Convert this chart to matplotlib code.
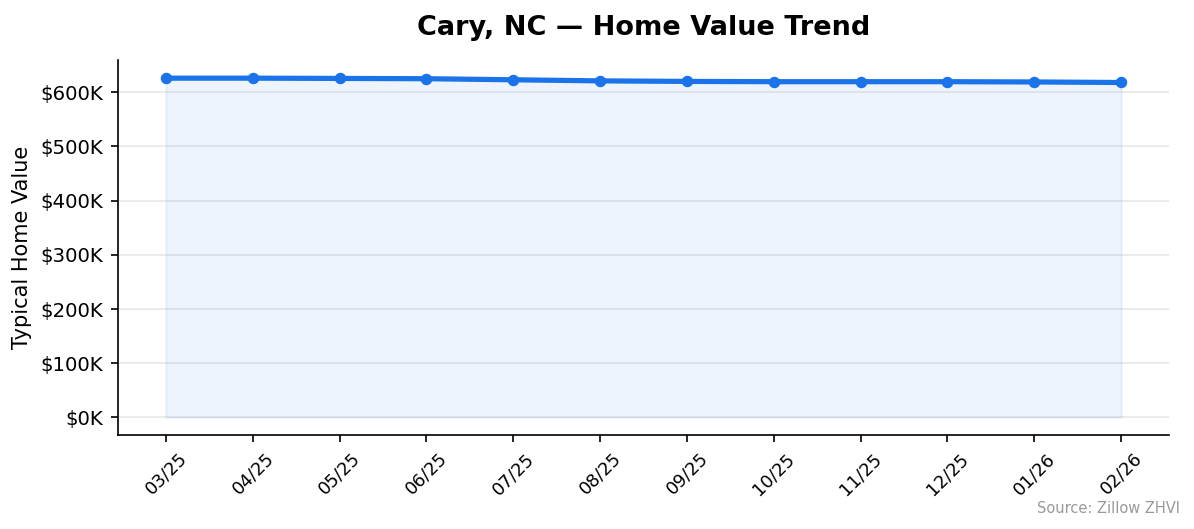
import matplotlib
matplotlib.use("Agg")
import matplotlib.pyplot as plt
from matplotlib.ticker import FuncFormatter

# ── Data ────────────────────────────────────────────
months = ["03/25", "04/25", "05/25", "06/25", "07/25", "08/25",
          "09/25", "10/25", "11/25", "12/25", "01/26", "02/26"]
values = [626000, 626000, 625500, 625000, 623000, 621000,
          620000, 619500, 619500, 619500, 619000, 618000]

COLOR = "#1a73e8"

fig, ax = plt.subplots(figsize=(7.96, 3.527), dpi=150)
x = list(range(len(months)))
ax.fill_between(x, values, color=COLOR, alpha=0.08)
ax.plot(x, values, color=COLOR, linewidth=2.5, marker="o", markersize=4.5)

ax.set_title("Cary, NC — Home Value Trend", fontsize=13, fontweight="bold", pad=12)
ax.set_ylabel("Typical Home Value", fontsize=10)
ax.set_xticks(x)
ax.set_xticklabels(months, rotation=45, fontsize=8.5)
ax.yaxis.set_major_formatter(FuncFormatter(lambda v, p: f"${v/1000:.0f}K"))
ax.set_ylim(-32000, 660000)
ax.set_yticks(range(0, 600001, 100000))
ax.tick_params(axis="y", labelsize=9.5)
ax.grid(axis="y", alpha=0.3)
ax.spines["top"].set_visible(False)
ax.spines["right"].set_visible(False)

fig.text(0.988, 0.03, "Source: Zillow ZHVI", ha="right", fontsize=7, color="#999999")
fig.subplots_adjust(left=0.099, right=0.979, top=0.887, bottom=0.178)
plt.savefig("out.png", dpi=150)
